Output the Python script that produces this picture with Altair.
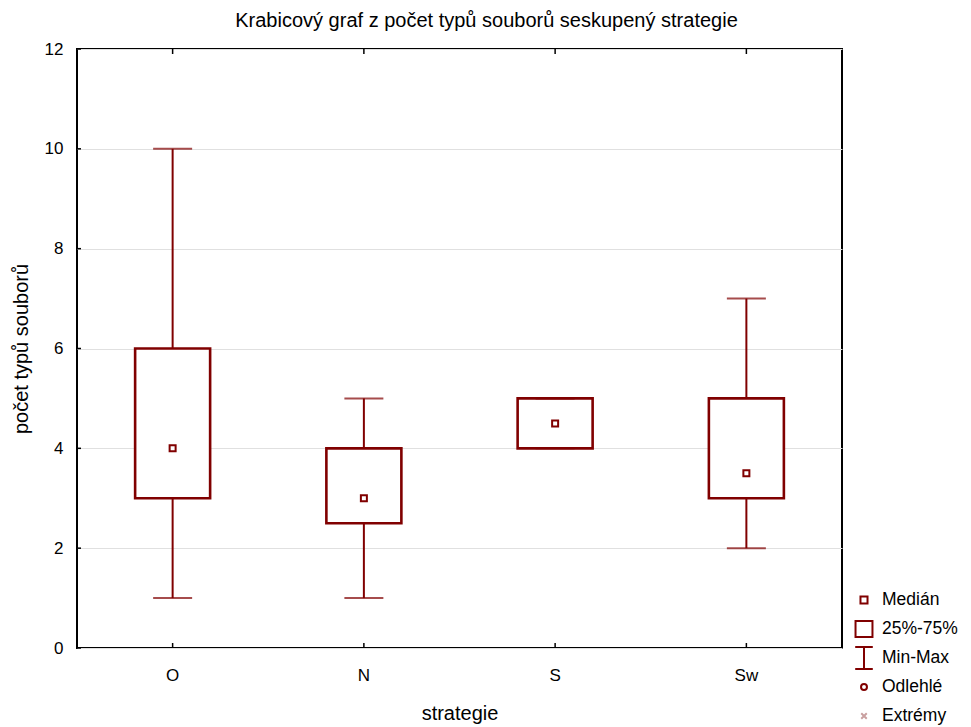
import altair as alt
import pandas as pd

strategies = ["O", "N", "S", "Sw"]
mins = [1, 1, 4, 2]
q1s = [3, 2.5, 4, 3]
medians = [4, 3, 4.5, 3.5]
q3s = [6, 4, 5, 5]
maxs = [10, 5, 5, 7]

y_ticks = [0, 2, 4, 6, 8, 10, 12]

legend_items = ["Medián", "25%-75%", "Min-Max", "Odlehlé", "Extrémy"]
legend_paths = [
    "M-0.32,-0.32H0.32V0.32H-0.32Z",
    "M-0.77,-0.73H0.77V0.73H-0.77Z",
    "M-0.8,-1H0.8M0,-1V1M-0.8,1H0.8",
    "M-0.27,0A0.27,0.27 0 1,0 0.27,0A0.27,0.27 0 1,0 -0.27,0Z",
    "M-0.25,-0.25L0.25,0.25M-0.25,0.25L0.25,-0.25",
]
legend_colors = ["#800000", "#800000", "#800000", "#800000", "#c9a0a0"]

RED = "#800000"
FONT = "Liberation Sans"

df = pd.DataFrame({"strategie": strategies, "min": mins, "q1": q1s,
                   "med": medians, "q3": q3s, "max": maxs})
tick_df = pd.DataFrame({"v": y_ticks})
leg_df = pd.DataFrame({"item": legend_items})

x_enc = alt.X("strategie:N", sort=strategies,
              scale=alt.Scale(paddingInner=0, paddingOuter=0),
              axis=alt.Axis(title="strategie", ticks=False, domain=False, grid=False,
                            labelAngle=0, labelPadding=19, labelFontSize=17,
                            titleFontSize=20, titleFontWeight="normal", titlePadding=20,
                            labelColor="black", titleColor="black"),
              bandPosition=0.5)
y_scale = alt.Scale(domain=[0, 12], nice=False, zero=True)

base = alt.Chart(df)

whisk_lo = base.mark_rule(color=RED, strokeWidth=2).encode(
    x=x_enc,
    y=alt.Y("min:Q", scale=y_scale,
            axis=alt.Axis(title="počet typů souborů", values=y_ticks, ticks=False,
                          domain=False, grid=True, gridColor="#e0e0e0", gridWidth=1,
                          labelPadding=14, labelFontSize=17, titleFontSize=20,
                          titleFontWeight="normal", titlePadding=13,
                          labelColor="black", titleColor="black")),
    y2="q1:Q")
whisk_hi = base.mark_rule(color=RED, strokeWidth=2).encode(
    x=alt.X("strategie:N", sort=strategies, bandPosition=0.5),
    y="q3:Q", y2="max:Q")
box = base.mark_bar(size=75, fill="white", stroke=RED, strokeWidth=2.6).encode(
    x=alt.X("strategie:N", sort=strategies), y="q1:Q", y2="q3:Q")
cap_lo = base.mark_tick(color=RED, size=39, thickness=2).encode(
    x=alt.X("strategie:N", sort=strategies), y="min:Q")
cap_hi = base.mark_tick(color=RED, size=39, thickness=2).encode(
    x=alt.X("strategie:N", sort=strategies), y="max:Q")
med = base.mark_square(size=36, fill="white", stroke=RED, strokeWidth=2, opacity=1).encode(
    x=alt.X("strategie:N", sort=strategies, bandPosition=0.5), y="med:Q")

ytick_marks = alt.Chart(tick_df).mark_rule(color="black", strokeWidth=1.5).encode(
    y="v:Q", x=alt.value(0), x2=alt.value(4))
xtick_bot = base.mark_rule(color="black", strokeWidth=1.5).encode(
    x=alt.X("strategie:N", sort=strategies, bandPosition=0.5),
    y=alt.value(599), y2=alt.value(594))
xtick_top = base.mark_rule(color="black", strokeWidth=1.5).encode(
    x=alt.X("strategie:N", sort=strategies, bandPosition=0.5),
    y=alt.value(0), y2=alt.value(5))

leg = alt.Legend(title=None, orient="none", legendX=775, legendY=539,
                 symbolSize=484, symbolStrokeWidth=2, gridAlign="all",
                 symbolOpacity=1, symbolFillColor="transparent",
                 labelFontSize=17.5, labelOffset=6, rowPadding=-1,
                 padding=0, labelLimit=200, labelColor="black")

legend_layer = alt.Chart(leg_df).mark_point(filled=False, opacity=0).encode(
    shape=alt.Shape("item:N", sort=legend_items,
                    scale=alt.Scale(domain=legend_items, range=legend_paths),
                    legend=leg),
    color=alt.Color("item:N", sort=legend_items,
                    scale=alt.Scale(domain=legend_items, range=legend_colors),
                    legend=leg),
)

chart = alt.layer(
    whisk_lo, whisk_hi, box, cap_lo, cap_hi, med,
    ytick_marks, xtick_bot, xtick_top, legend_layer
).properties(
    width=765, height=599,
    autosize=alt.AutoSizeParams(type="none"),
    padding={"left": 69, "top": 41, "right": 121, "bottom": 79},
    title=alt.TitleParams(text="Krabicový graf z počet typů souborů seskupený strategie",
                          fontSize=20, fontWeight="normal", color="black", dx=27,
                          offset=9, font=FONT),
).configure(font=FONT).configure_view(
    stroke="black", strokeWidth=2
)

chart.save("out.html", embed_options={"renderer": "svg", "actions": False})
